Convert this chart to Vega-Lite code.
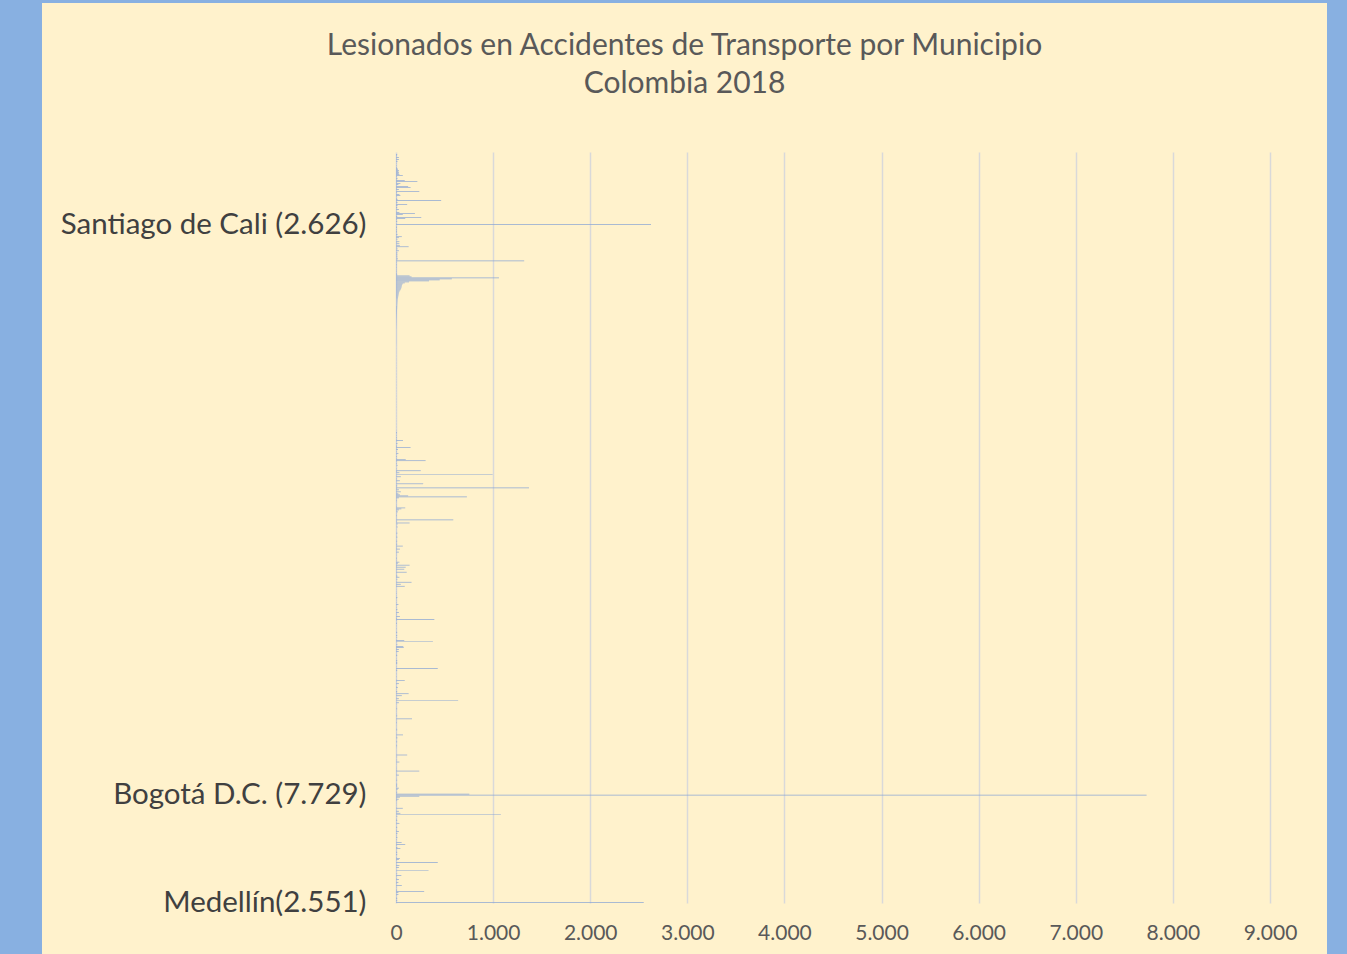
{
"$schema": "https://vega.github.io/schema/vega-lite/v6.json",
"background": "#88B0E1",
"padding": {"left": 42, "top": 3, "right": 20, "bottom": 0},
"autosize": {"type": "none"},
"width": 1285, "height": 951,
"view": {"fill": "#FFF2CC", "stroke": null},
"title": {"text": ["Lesionados en Accidentes de Transporte por Municipio", "Colombia 2018"], "font": "Lato", "fontSize": 30, "fontWeight": "normal", "color": "#595959", "lineHeight": 38, "offset": -96, "anchor": "middle", "frame": "group"},
"data": {"values": [
{"i":1,"v":12},{"i":2,"v":8},{"i":3,"v":5},{"i":4,"v":30},{"i":5,"v":6},{"i":6,"v":30},{"i":7,"v":4},{"i":8,"v":15},{"i":9,"v":3},{"i":10,"v":5},
{"i":11,"v":2},{"i":12,"v":6},{"i":13,"v":3},{"i":14,"v":8},{"i":15,"v":15},{"i":16,"v":18},{"i":17,"v":30},{"i":18,"v":25},{"i":19,"v":30},{"i":20,"v":28},
{"i":21,"v":35},{"i":22,"v":70},{"i":23,"v":8},{"i":24,"v":5},{"i":25,"v":15},{"i":26,"v":6},{"i":27,"v":90},{"i":28,"v":220},{"i":29,"v":10},{"i":30,"v":45},
{"i":31,"v":25},{"i":32,"v":8},{"i":33,"v":125},{"i":34,"v":150},{"i":35,"v":10},{"i":36,"v":30},{"i":37,"v":6},{"i":38,"v":240},{"i":39,"v":8},{"i":40,"v":5},
{"i":41,"v":35},{"i":42,"v":45},{"i":43,"v":6},{"i":44,"v":4},{"i":45,"v":8},{"i":46,"v":15},{"i":47,"v":465},{"i":48,"v":6},{"i":49,"v":15},{"i":50,"v":5},
{"i":51,"v":115},{"i":52,"v":15},{"i":53,"v":4},{"i":54,"v":12},{"i":55,"v":5},{"i":56,"v":30},{"i":57,"v":4},{"i":58,"v":6},{"i":59,"v":35},{"i":60,"v":195},
{"i":61,"v":70},{"i":62,"v":5},{"i":63,"v":12},{"i":64,"v":260},{"i":65,"v":95},{"i":66,"v":8},{"i":67,"v":4},{"i":68,"v":12},{"i":69,"v":3},{"i":70,"v":5},
{"i":71,"v":2626,"municipio":"Santiago de Cali"},{"i":72,"v":3},{"i":73,"v":6},{"i":74,"v":10},{"i":75,"v":4},{"i":76,"v":8},{"i":77,"v":5},{"i":78,"v":9},{"i":79,"v":6},{"i":80,"v":4},
{"i":81,"v":15},{"i":82,"v":5},{"i":83,"v":60},{"i":84,"v":30},{"i":85,"v":6},{"i":86,"v":15},{"i":87,"v":4},{"i":88,"v":35},{"i":89,"v":8},{"i":90,"v":35},
{"i":91,"v":6},{"i":92,"v":40},{"i":93,"v":130},{"i":94,"v":8},{"i":95,"v":15},{"i":96,"v":5},{"i":97,"v":30},{"i":98,"v":4},{"i":99,"v":15},{"i":100,"v":6},
{"i":101,"v":15},{"i":102,"v":5},{"i":103,"v":15},{"i":104,"v":4},{"i":105,"v":20},{"i":106,"v":6},{"i":107,"v":1320},{"i":108,"v":5},{"i":109,"v":8},{"i":110,"v":3},
{"i":111,"v":10},{"i":112,"v":4},{"i":113,"v":6},{"i":114,"v":9},{"i":115,"v":3},{"i":116,"v":7},{"i":117,"v":5},{"i":118,"v":8},{"i":119,"v":4},{"i":120,"v":10},
{"i":121,"v":12},{"i":122,"v":140},{"i":123,"v":160},{"i":124,"v":1060},{"i":125,"v":575},{"i":126,"v":450},{"i":127,"v":340},{"i":128,"v":135},{"i":129,"v":90},{"i":130,"v":70},
{"i":131,"v":62},{"i":132,"v":60},{"i":133,"v":58},{"i":134,"v":55},{"i":135,"v":52},{"i":136,"v":45},{"i":137,"v":38},{"i":138,"v":33},{"i":139,"v":30},{"i":140,"v":28},
{"i":141,"v":26},{"i":142,"v":24},{"i":143,"v":22},{"i":144,"v":21},{"i":145,"v":20},{"i":146,"v":19},{"i":147,"v":18},{"i":148,"v":17},{"i":149,"v":16},{"i":150,"v":15},
{"i":151,"v":14},{"i":152,"v":13},{"i":153,"v":12},{"i":154,"v":12},{"i":155,"v":11},{"i":156,"v":10},{"i":157,"v":10},{"i":158,"v":9},{"i":159,"v":9},{"i":160,"v":8},
{"i":161,"v":8},{"i":162,"v":7},{"i":163,"v":7},{"i":164,"v":6},{"i":165,"v":6},{"i":166,"v":5},{"i":167,"v":5},{"i":168,"v":5},{"i":169,"v":4},{"i":170,"v":4},
{"i":171,"v":4},{"i":172,"v":3},{"i":173,"v":3},{"i":174,"v":3},{"i":175,"v":2},{"i":176,"v":2},{"i":177,"v":2},{"i":178,"v":2},{"i":179,"v":2},{"i":180,"v":2},
{"i":181,"v":2},{"i":182,"v":2},{"i":183,"v":2},{"i":184,"v":2},{"i":185,"v":2},{"i":186,"v":2},{"i":187,"v":2},{"i":188,"v":2},{"i":189,"v":2},{"i":190,"v":1},
{"i":191,"v":1},{"i":192,"v":1},{"i":193,"v":0},{"i":194,"v":1},{"i":195,"v":1},{"i":196,"v":0},{"i":197,"v":1},{"i":198,"v":1},{"i":199,"v":1},{"i":200,"v":0},
{"i":201,"v":1},{"i":202,"v":1},{"i":203,"v":0},{"i":204,"v":1},{"i":205,"v":1},{"i":206,"v":1},{"i":207,"v":0},{"i":208,"v":1},{"i":209,"v":1},{"i":210,"v":0},
{"i":211,"v":1},{"i":212,"v":0},{"i":213,"v":1},{"i":214,"v":1},{"i":215,"v":0},{"i":216,"v":1},{"i":217,"v":1},{"i":218,"v":0},{"i":219,"v":1},{"i":220,"v":1},
{"i":221,"v":0},{"i":222,"v":1},{"i":223,"v":1},{"i":224,"v":0},{"i":225,"v":1},{"i":226,"v":0},{"i":227,"v":1},{"i":228,"v":1},{"i":229,"v":0},{"i":230,"v":1},
{"i":231,"v":1},{"i":232,"v":0},{"i":233,"v":1},{"i":234,"v":1},{"i":235,"v":0},{"i":236,"v":1},{"i":237,"v":1},{"i":238,"v":0},{"i":239,"v":1},{"i":240,"v":0},
{"i":241,"v":1},{"i":242,"v":1},{"i":243,"v":0},{"i":244,"v":1},{"i":245,"v":1},{"i":246,"v":0},{"i":247,"v":1},{"i":248,"v":1},{"i":249,"v":0},{"i":250,"v":1},
{"i":251,"v":0},{"i":252,"v":1},{"i":253,"v":1},{"i":254,"v":0},{"i":255,"v":1},{"i":256,"v":1},{"i":257,"v":0},{"i":258,"v":1},{"i":259,"v":1},{"i":260,"v":0},
{"i":261,"v":1},{"i":262,"v":1},{"i":263,"v":0},{"i":264,"v":1},{"i":265,"v":0},{"i":266,"v":1},{"i":267,"v":1},{"i":268,"v":0},{"i":269,"v":1},{"i":270,"v":1},
{"i":271,"v":0},{"i":272,"v":1},{"i":273,"v":1},{"i":274,"v":0},{"i":275,"v":1},{"i":276,"v":2},{"i":277,"v":1},{"i":278,"v":10},{"i":279,"v":5},{"i":280,"v":3},
{"i":281,"v":6},{"i":282,"v":2},{"i":283,"v":8},{"i":284,"v":4},{"i":285,"v":6},{"i":286,"v":72},{"i":287,"v":5},{"i":288,"v":3},{"i":289,"v":15},{"i":290,"v":4},
{"i":291,"v":6},{"i":292,"v":8},{"i":293,"v":150},{"i":294,"v":5},{"i":295,"v":20},{"i":296,"v":3},{"i":297,"v":6},{"i":298,"v":4},{"i":299,"v":25},{"i":300,"v":5},
{"i":301,"v":3},{"i":302,"v":8},{"i":303,"v":4},{"i":304,"v":6},{"i":305,"v":100},{"i":306,"v":305},{"i":307,"v":5},{"i":308,"v":3},{"i":309,"v":7},{"i":310,"v":4},
{"i":311,"v":18},{"i":312,"v":5},{"i":313,"v":3},{"i":314,"v":8},{"i":315,"v":6},{"i":316,"v":255},{"i":317,"v":10},{"i":318,"v":35},{"i":319,"v":4},{"i":320,"v":995},
{"i":321,"v":6},{"i":322,"v":50},{"i":323,"v":4},{"i":324,"v":8},{"i":325,"v":5},{"i":326,"v":40},{"i":327,"v":6},{"i":328,"v":3},{"i":329,"v":280},{"i":330,"v":5},
{"i":331,"v":12},{"i":332,"v":6},{"i":333,"v":1370},{"i":334,"v":8},{"i":335,"v":30},{"i":336,"v":5},{"i":337,"v":50},{"i":338,"v":6},{"i":339,"v":25},{"i":340,"v":40},
{"i":341,"v":125},{"i":342,"v":730},{"i":343,"v":30},{"i":344,"v":6},{"i":345,"v":4},{"i":346,"v":10},{"i":347,"v":3},{"i":348,"v":5},{"i":349,"v":2},{"i":350,"v":6},
{"i":351,"v":4},{"i":352,"v":8},{"i":353,"v":95},{"i":354,"v":55},{"i":355,"v":30},{"i":356,"v":5},{"i":357,"v":18},{"i":358,"v":3},{"i":359,"v":6},{"i":360,"v":4},
{"i":361,"v":10},{"i":362,"v":3},{"i":363,"v":5},{"i":364,"v":4},{"i":365,"v":590},{"i":366,"v":6},{"i":367,"v":8},{"i":368,"v":140},{"i":369,"v":18},{"i":370,"v":4},
{"i":371,"v":6},{"i":372,"v":20},{"i":373,"v":3},{"i":374,"v":5},{"i":375,"v":4},{"i":376,"v":3},{"i":377,"v":6},{"i":378,"v":14},{"i":379,"v":4},{"i":380,"v":3},
{"i":381,"v":5},{"i":382,"v":14},{"i":383,"v":2},{"i":384,"v":4},{"i":385,"v":3},{"i":386,"v":12},{"i":387,"v":5},{"i":388,"v":4},{"i":389,"v":12},{"i":390,"v":6},
{"i":391,"v":70},{"i":392,"v":5},{"i":393,"v":8},{"i":394,"v":40},{"i":395,"v":6},{"i":396,"v":4},{"i":397,"v":30},{"i":398,"v":5},{"i":399,"v":3},{"i":400,"v":6},
{"i":401,"v":2},{"i":402,"v":4},{"i":403,"v":10},{"i":404,"v":3},{"i":405,"v":5},{"i":406,"v":4},{"i":407,"v":35},{"i":408,"v":20},{"i":409,"v":6},{"i":410,"v":140},
{"i":411,"v":8},{"i":412,"v":100},{"i":413,"v":5},{"i":414,"v":85},{"i":415,"v":4},{"i":416,"v":6},{"i":417,"v":110},{"i":418,"v":5},{"i":419,"v":3},{"i":420,"v":8},
{"i":421,"v":14},{"i":422,"v":35},{"i":423,"v":5},{"i":424,"v":14},{"i":425,"v":4},{"i":426,"v":6},{"i":427,"v":160},{"i":428,"v":5},{"i":429,"v":50},{"i":430,"v":6},
{"i":431,"v":90},{"i":432,"v":4},{"i":433,"v":3},{"i":434,"v":5},{"i":435,"v":2},{"i":436,"v":4},{"i":437,"v":3},{"i":438,"v":6},{"i":439,"v":2},{"i":440,"v":4},
{"i":441,"v":3},{"i":442,"v":14},{"i":443,"v":5},{"i":444,"v":3},{"i":445,"v":4},{"i":446,"v":2},{"i":447,"v":5},{"i":448,"v":3},{"i":449,"v":25},{"i":450,"v":4},
{"i":451,"v":3},{"i":452,"v":5},{"i":453,"v":2},{"i":454,"v":14},{"i":455,"v":4},{"i":456,"v":3},{"i":457,"v":30},{"i":458,"v":5},{"i":459,"v":6},{"i":460,"v":4},
{"i":461,"v":40},{"i":462,"v":5},{"i":463,"v":8},{"i":464,"v":395},{"i":465,"v":6},{"i":466,"v":3},{"i":467,"v":5},{"i":468,"v":10},{"i":469,"v":2},{"i":470,"v":4},
{"i":471,"v":3},{"i":472,"v":2},{"i":473,"v":5},{"i":474,"v":3},{"i":475,"v":2},{"i":476,"v":4},{"i":477,"v":12},{"i":478,"v":3},{"i":479,"v":2},{"i":480,"v":12},
{"i":481,"v":4},{"i":482,"v":12},{"i":483,"v":3},{"i":484,"v":6},{"i":485,"v":85},{"i":486,"v":380},{"i":487,"v":5},{"i":488,"v":3},{"i":489,"v":14},{"i":490,"v":4},
{"i":491,"v":75},{"i":492,"v":80},{"i":493,"v":6},{"i":494,"v":30},{"i":495,"v":5},{"i":496,"v":28},{"i":497,"v":4},{"i":498,"v":3},{"i":499,"v":5},{"i":500,"v":12},
{"i":501,"v":3},{"i":502,"v":2},{"i":503,"v":4},{"i":504,"v":3},{"i":505,"v":12},{"i":506,"v":5},{"i":507,"v":12},{"i":508,"v":12},{"i":509,"v":3},{"i":510,"v":2},
{"i":511,"v":4},{"i":512,"v":3},{"i":513,"v":430},{"i":514,"v":5},{"i":515,"v":12},{"i":516,"v":3},{"i":517,"v":2},{"i":518,"v":4},{"i":519,"v":3},{"i":520,"v":2},
{"i":521,"v":5},{"i":522,"v":3},{"i":523,"v":2},{"i":524,"v":4},{"i":525,"v":90},{"i":526,"v":5},{"i":527,"v":3},{"i":528,"v":30},{"i":529,"v":4},{"i":530,"v":2},
{"i":531,"v":5},{"i":532,"v":18},{"i":533,"v":3},{"i":534,"v":4},{"i":535,"v":2},{"i":536,"v":12},{"i":537,"v":5},{"i":538,"v":130},{"i":539,"v":4},{"i":540,"v":60},
{"i":541,"v":3},{"i":542,"v":6},{"i":543,"v":30},{"i":544,"v":5},{"i":545,"v":640},{"i":546,"v":4},{"i":547,"v":30},{"i":548,"v":5},{"i":549,"v":3},{"i":550,"v":2},
{"i":551,"v":4},{"i":552,"v":3},{"i":553,"v":12},{"i":554,"v":2},{"i":555,"v":4},{"i":556,"v":3},{"i":557,"v":2},{"i":558,"v":5},{"i":559,"v":3},{"i":560,"v":12},
{"i":561,"v":4},{"i":562,"v":2},{"i":563,"v":165},{"i":564,"v":5},{"i":565,"v":3},{"i":566,"v":4},{"i":567,"v":10},{"i":568,"v":2},{"i":569,"v":3},{"i":570,"v":4},
{"i":571,"v":2},{"i":572,"v":3},{"i":573,"v":5},{"i":574,"v":12},{"i":575,"v":3},{"i":576,"v":2},{"i":577,"v":4},{"i":578,"v":3},{"i":579,"v":72},{"i":580,"v":4},
{"i":581,"v":5},{"i":582,"v":14},{"i":583,"v":3},{"i":584,"v":2},{"i":585,"v":4},{"i":586,"v":12},{"i":587,"v":3},{"i":588,"v":2},{"i":589,"v":5},{"i":590,"v":11},
{"i":591,"v":3},{"i":592,"v":4},{"i":593,"v":2},{"i":594,"v":3},{"i":595,"v":5},{"i":596,"v":2},{"i":597,"v":4},{"i":598,"v":3},{"i":599,"v":115},{"i":600,"v":4},
{"i":601,"v":12},{"i":602,"v":3},{"i":603,"v":5},{"i":604,"v":12},{"i":605,"v":4},{"i":606,"v":35},{"i":607,"v":3},{"i":608,"v":5},{"i":609,"v":2},{"i":610,"v":4},
{"i":611,"v":3},{"i":612,"v":6},{"i":613,"v":2},{"i":614,"v":8},{"i":615,"v":240},{"i":616,"v":5},{"i":617,"v":3},{"i":618,"v":6},{"i":619,"v":30},{"i":620,"v":4},
{"i":621,"v":2},{"i":622,"v":5},{"i":623,"v":3},{"i":624,"v":12},{"i":625,"v":4},{"i":626,"v":2},{"i":627,"v":5},{"i":628,"v":12},{"i":629,"v":10},{"i":630,"v":12},
{"i":631,"v":4},{"i":632,"v":30},{"i":633,"v":18},{"i":634,"v":5},{"i":635,"v":3},{"i":636,"v":12},{"i":637,"v":6},{"i":638,"v":755},{"i":639,"v":7729,"municipio":"Bogotá D.C."},{"i":640,"v":240},
{"i":641,"v":40},{"i":642,"v":8},{"i":643,"v":28},{"i":644,"v":12},{"i":645,"v":4},{"i":646,"v":3},{"i":647,"v":5},{"i":648,"v":2},{"i":649,"v":4},{"i":650,"v":3},
{"i":651,"v":6},{"i":652,"v":70},{"i":653,"v":4},{"i":654,"v":5},{"i":655,"v":30},{"i":656,"v":6},{"i":657,"v":45},{"i":658,"v":1080},{"i":659,"v":5},{"i":660,"v":14},
{"i":661,"v":3},{"i":662,"v":4},{"i":663,"v":6},{"i":664,"v":12},{"i":665,"v":3},{"i":666,"v":5},{"i":667,"v":35},{"i":668,"v":4},{"i":669,"v":2},{"i":670,"v":5},
{"i":671,"v":12},{"i":672,"v":3},{"i":673,"v":4},{"i":674,"v":6},{"i":675,"v":30},{"i":676,"v":4},{"i":677,"v":14},{"i":678,"v":3},{"i":679,"v":5},{"i":680,"v":4},
{"i":681,"v":14},{"i":682,"v":2},{"i":683,"v":6},{"i":684,"v":3},{"i":685,"v":4},{"i":686,"v":58},{"i":687,"v":5},{"i":688,"v":95},{"i":689,"v":6},{"i":690,"v":3},
{"i":691,"v":14},{"i":692,"v":45},{"i":693,"v":4},{"i":694,"v":3},{"i":695,"v":5},{"i":696,"v":12},{"i":697,"v":3},{"i":698,"v":12},{"i":699,"v":4},{"i":700,"v":2},
{"i":701,"v":6},{"i":702,"v":40},{"i":703,"v":30},{"i":704,"v":5},{"i":705,"v":3},{"i":706,"v":430},{"i":707,"v":4},{"i":708,"v":6},{"i":709,"v":35},{"i":710,"v":5},
{"i":711,"v":30},{"i":712,"v":3},{"i":713,"v":4},{"i":714,"v":335},{"i":715,"v":5},{"i":716,"v":3},{"i":717,"v":12},{"i":718,"v":4},{"i":719,"v":55},{"i":720,"v":5},
{"i":721,"v":3},{"i":722,"v":6},{"i":723,"v":30},{"i":724,"v":4},{"i":725,"v":5},{"i":726,"v":25},{"i":727,"v":6},{"i":728,"v":3},{"i":729,"v":60},{"i":730,"v":4},
{"i":731,"v":5},{"i":732,"v":3},{"i":733,"v":6},{"i":734,"v":8},{"i":735,"v":290},{"i":736,"v":25},{"i":737,"v":4},{"i":738,"v":25},{"i":739,"v":5},{"i":740,"v":3},
{"i":741,"v":6},{"i":742,"v":12},{"i":743,"v":4},{"i":744,"v":12},{"i":745,"v":5},{"i":746,"v":2551,"municipio":"Medellín"}
]},
"encoding": {
"y": {"field": "i", "type": "ordinal", "sort": "ascending",
 "scale": {"range": [149, 900], "paddingInner": 0.3, "paddingOuter": 2.5, "align": 1},
 "axis": {"title": null, "ticks": false, "domain": false, "grid": false, "labelOverlap": false, "labelLimit": 400, "offset": -354,
  "labelExpr": "datum.value == 71 ? 'Santiago de Cali (2.626)' : datum.value == 639 ? 'Bogotá D.C. (7.729)' : datum.value == 746 ? 'Medellín(2.551)' : ''",
  "labelFont": "Lato", "labelFontSize": 29.5, "labelColor": "#404040", "labelPadding": 30}}
},
"layer": [
{"mark": {"type": "bar", "opacity": 0},
 "encoding": {"x": {"field": "v", "type": "quantitative", "scale": {"domain": [0, 9000], "nice": false, "range": [354, 1228]},
  "axis": {"orient": "top", "title": null, "values": [0,1000,2000,3000,4000,5000,6000,7000,8000,9000], "labels": false, "ticks": false, "domain": false,
   "grid": true, "gridColor": "#D9D9D9", "gridWidth": 1.5}}}},
{"mark": {"type": "bar", "color": "#8DA7D4"},
 "encoding": {"x": {"field": "v", "type": "quantitative", "scale": {"domain": [0, 9000], "nice": false, "range": [354, 1228]},
  "axis": {"orient": "bottom", "title": null, "values": [0,1000,2000,3000,4000,5000,6000,7000,8000,9000], "offset": -51,
   "labelExpr": "replace(format(datum.value, ','), ',', '.')", "labelFlush": false, "grid": false, "domain": false, "ticks": false,
   "labelFont": "Lato", "labelFontSize": 21, "labelColor": "#595959", "labelPadding": 19}}}}
],
"resolve": {"axis": {"x": "independent"}}
}
